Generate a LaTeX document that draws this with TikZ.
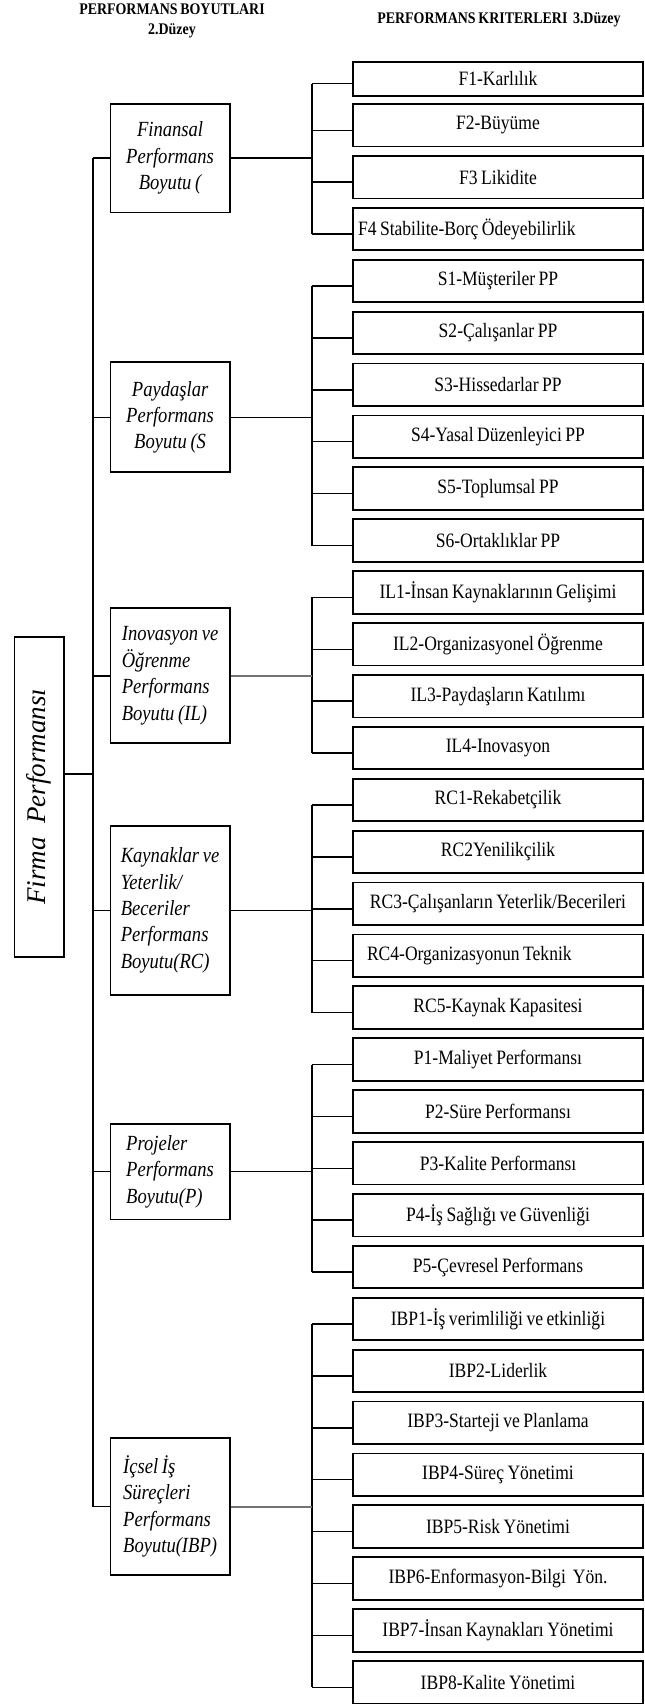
\documentclass[tikz,border=0pt]{standalone}
\usepackage{fontspec}
\setmainfont[FakeStretch=0.86,WordSpace=0.8]{Liberation Serif}
\newfontfamily\plainserif{Liberation Serif}

\tikzset{
  critbox/.style={draw, line width=0.9pt, minimum width=145pt, minimum height=21.25pt, inner sep=1pt, font=\fontsize{10.2}{12}\selectfont},
  dimbox/.style={draw, line width=0.9pt, minimum width=59.6pt, inner sep=2pt, align=center, font=\fontsize{10.8}{13.2}\selectfont\itshape},
  link/.style={line width=0.75pt},
  greylink/.style={line width=1pt, black!55},
  header/.style={font=\fontsize{8.1}{10}\selectfont\bfseries, align=center, inner sep=0pt},
}

\begin{document}
\begin{tikzpicture}[x=0.5pt,y=-0.5pt]
\def\rx{498}
\def\pitch{51.9}
\useasboundingbox (0,0) rectangle (644,1704);

% headers
\node[header] (hdim) at (172,21) {PERFORMANS BOYUTLARI\\2.Düzey};
\node[header] (hcrit) at (499,20) {PERFORMANS KRITERLERI\ \ 3.Düzey};

% level 1
\node[draw, line width=0.9pt, rotate=90, minimum width=160pt, minimum height=24.85pt, inner sep=0pt,
      font=\plainserif\fontsize{13.5}{16}\selectfont\itshape] (firma) at (39.3,796.8) {Firma\ \ Performansı};

% level 2: dimensions
\node[dimbox, minimum height=54.2pt] (fin) at (170.1,158.2) {Finansal\\Performans\\Boyutu (};
\node[dimbox, minimum height=55pt] (pay) at (170.1,417.3) {Paydaşlar\\Performans\\Boyutu (S};
\node[dimbox, minimum height=67.5pt, align=left] (ino) at (170.1,675.8) {Inovasyon ve\\Öğrenme\\Performans\\Boyutu (IL)};
\node[dimbox, minimum height=84.7pt, align=left] (kay) at (170.1,910.3) {Kaynaklar ve\\Yeterlik/\\Beceriler\\Performans\\Boyutu(RC)};
\node[dimbox, minimum height=47.7pt, align=left] (pro) at (170.1,1171.7) {Projeler\\Performans\\Boyutu(P)};
\node[dimbox, minimum height=68.5pt, align=left] (ics) at (170.1,1506.5) {İçsel İş\\Süreçleri\\Performans\\Boyutu(IBP)};

% level 3: criteria
\node[critbox, minimum height=17pt] (f1) at (\rx,78.7) {F1-Karlılık};
\foreach \lbl [count=\i from 2] in {F2-Büyüme, F3 Likidite}
  \node[critbox] (f\i) at (\rx,{125.3+(\i-2)*\pitch}) {\lbl};
\node[critbox, inner xsep=2.5pt] (f4) at (\rx,{125.3+2*\pitch}) {\makebox[140pt][l]{F4 Stabilite-Borç Ödeyebilirlik}};
\foreach \lbl [count=\i] in {S1-Müşteriler PP, S2-Çalışanlar PP, S3-Hissedarlar PP, S4-Yasal Düzenleyici PP, S5-Toplumsal PP, S6-Ortaklıklar PP}
  \node[critbox] (s\i) at (\rx,{125.3+(\i+2)*\pitch}) {\lbl};
\foreach \lbl [count=\i] in {IL1-İnsan Kaynaklarının Gelişimi, IL2-Organizasyonel Öğrenme, IL3-Paydaşların Katılımı, IL4-Inovasyon}
  \node[critbox] (il\i) at (\rx,{125.3+(\i+8)*\pitch}) {\lbl};
\foreach \lbl [count=\i] in {RC1-Rekabetçilik, RC2Yenilikçilik, RC3-Çalışanların Yeterlik/Becerileri}
  \node[critbox] (rc\i) at (\rx,{125.3+(\i+12)*\pitch}) {\lbl};
\node[critbox, inner xsep=7pt] (rc4) at (\rx,{125.3+16*\pitch}) {\makebox[131pt][l]{RC4-Organizasyonun Teknik}};
\node[critbox] (rc5) at (\rx,{125.3+17*\pitch}) {RC5-Kaynak Kapasitesi};
\foreach \lbl [count=\i] in {P1-Maliyet Performansı, P2-Süre Performansı, P3-Kalite Performansı, P4-İş Sağlığı ve Güvenliği, P5-Çevresel Performans}
  \node[critbox] (p\i) at (\rx,{125.3+(\i+17)*\pitch}) {\lbl};
\foreach \lbl [count=\i] in {IBP1-İş verimliliği ve etkinliği, IBP2-Liderlik, IBP3-Starteji ve Planlama, IBP4-Süreç Yönetimi, IBP5-Risk Yönetimi, IBP6-Enformasyon-Bilgi\ \ Yön., IBP7-İnsan Kaynakları Yönetimi, IBP8-Kalite Yönetimi}
  \node[critbox] (ibp\i) at (\rx,{125.3+(\i+22)*\pitch}) {\lbl};

% buses to the criteria
\foreach \grp/\last in {f/4, s/6, il/4, rc/5, p/5, ibp/8}{
  \foreach \k in {1,...,\last}
    \draw[link] ([yshift=-2.5pt]\grp\k.west) -- ++(-40,0) coordinate (\grp\k-b);
  \draw[link] (\grp1-b) -- (\grp\last-b);
}
\foreach \d/\grp/\sty in {fin/f/link, pay/s/link, ino/il/greylink, kay/rc/link, pro/p/link, ics/ibp/greylink}
  \draw[\sty] (\d.east) -- (\d.east -| \grp1-b);

% main trunk
\coordinate (trunk) at (93,0);
\draw[link] (fin.west -| trunk) -- (ics.west -| trunk);
\foreach \d in {fin,pay,ino,kay,pro,ics}
  \draw[link] (\d.west -| trunk) -- (\d.west);
\coordinate (fj) at ([yshift=11.4pt]firma.south);
\draw[link] (fj) -- (fj -| trunk);
\end{tikzpicture}
\end{document}
